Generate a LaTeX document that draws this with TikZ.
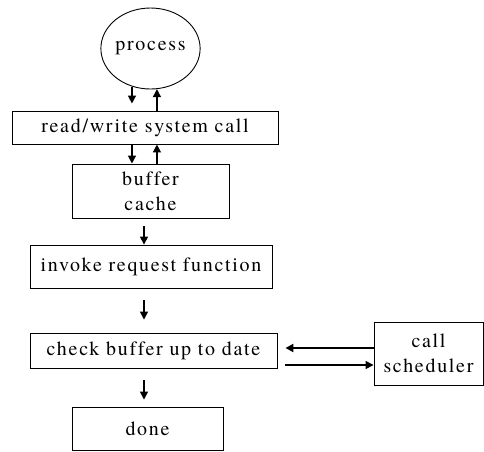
\documentclass[tikz,border=0pt]{standalone}
\usepackage{fontspec}
\setmainfont{texgyretermes-regular.otf}[LetterSpace=8.5, Ligatures=NoCommon]
\usetikzlibrary{arrows.meta,shapes.geometric}
\begin{document}
\begin{tikzpicture}[x=1pt,y=-1pt,
  every node/.style={font=\fontsize{20}{25}\selectfont, inner sep=0pt, align=center},
  stepbox/.style={draw, line width=0.9pt, rectangle},
  arr/.style={-{Triangle[length=8pt,width=8pt]}, line width=1.4pt},
  thickarr/.style={arr, line width=2.2pt}]
\useasboundingbox (0,0) rectangle (484,451);

% nodes
\node[draw, line width=0.9pt, ellipse, minimum width=97pt, minimum height=81pt] (proc) at (150.5,48.5) {process};
\node[stepbox, minimum width=266pt, minimum height=33pt] (rw) at (145,127.5) {read/write system call};
\node[stepbox, minimum width=157pt, minimum height=54pt] (buf) at (150.5,191) {buffer\\cache};
\node[stepbox, minimum width=242pt, minimum height=43pt] (inv) at (151,266.5) {invoke request function};
\node[stepbox, minimum width=247pt, minimum height=35pt] (chk) at (153.5,350.5) {check buffer up to date};
\node[stepbox, minimum width=151pt, minimum height=43pt] (done) at (147.5,428.5) {done};
\node[stepbox, minimum width=109pt, minimum height=63pt] (sched) at (428.5,353.5) {call\\scheduler};

% reference points for the connectors
\coordinate (sp) at (144,0);
\coordinate (hy1) at (0,348);
\coordinate (hy2) at (0,365);

% process <-> read/write
\draw[arr, shorten >=7pt] (proc.244) -- (proc.244 |- rw.north);
\draw[arr] (rw.north -| proc.279) -- (proc.279);
% read/write <-> buffer cache
\draw[arr] (rw.south -| proc.244) -- (buf.north -| proc.244);
\draw[arr] (buf.north -| proc.279) -- (rw.south -| proc.279);
% main chain
\draw[arr, shorten <=8pt] (buf.south -| sp) -- (inv.north -| sp);
\draw[arr, shorten <=12pt, shorten >=13pt] (inv.south -| sp) -- (chk.north -| sp);
\draw[arr, shorten <=12pt, shorten >=7pt] (chk.south -| sp) -- (done.north -| sp);
% scheduler loop
\draw[thickarr, shorten >=8pt] (sched.west |- hy1) -- (chk.east |- hy1);
\draw[arr, shorten <=8pt] (chk.east |- hy2) -- (sched.west |- hy2);
\end{tikzpicture}
\end{document}
